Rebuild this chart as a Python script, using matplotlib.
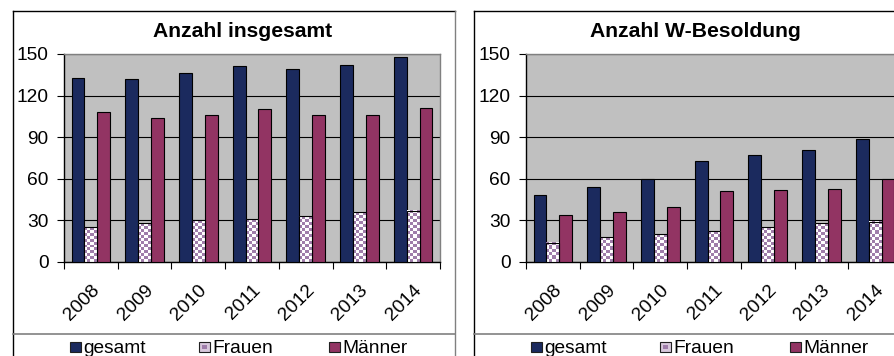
import matplotlib
matplotlib.use("Agg")
import matplotlib.pyplot as plt
import numpy as np
from matplotlib.patches import Rectangle
from matplotlib.lines import Line2D
from matplotlib.colors import ListedColormap

plt.rcParams['font.family'] = ['Liberation Sans', 'DejaVu Sans']

# Daten
jahre = ['2008', '2009', '2010', '2011', '2012', '2013', '2014']
serien = ['gesamt', 'Frauen', 'Männer']

ins_gesamt = [133, 132, 136, 141, 139, 142, 148]
ins_frauen = [25, 28, 30, 31, 33, 36, 37]
ins_maenner = [108, 104, 106, 110, 106, 106, 111]

w_gesamt = [48, 54, 60, 73, 77, 81, 89]
w_frauen = [14, 18, 20, 22, 25, 28, 29]
w_maenner = [34, 36, 40, 51, 52, 53, 60]

titel = ['Anzahl insgesamt', 'Anzahl W-Besoldung']
yticks = [0, 30, 60, 90, 120, 150]

c_gesamt = '#1B2A5E'
c_maenner = '#923463'
c_karo = '#9F7DAA'
c_grau = '#C0C0C0'

W, H = 895, 356
fig = plt.figure(figsize=(W / 100, H / 100), dpi=100)


def fx(px):
    return px / W


def fy(py):
    return 1 - py / H


karo_cmap = ListedColormap(['white', c_karo])
bw = 0.24


def diagramm(left_px, daten, title, title_x, box_x0, box_x1):
    ax = fig.add_axes([fx(left_px), fy(262), fx(376), 208 / H])
    ax.set_facecolor(c_grau)
    x = np.arange(len(jahre))
    g, f, m = daten
    ax.bar(x - bw, g, bw, color=c_gesamt, edgecolor='black', linewidth=0.8, zorder=3)
    ax.bar(x + bw, m, bw, color=c_maenner, edgecolor='black', linewidth=0.8, zorder=3)
    ax.set_xlim(-0.5, len(jahre) - 0.5)
    ax.set_ylim(0, 150)

    # Frauen: Karomuster
    fb = ax.bar(x, f, bw, color='none', edgecolor='black', linewidth=0.8, zorder=4)
    for rect in fb:
        x0, y0 = rect.get_x(), rect.get_y()
        x1, y1 = x0 + rect.get_width(), y0 + rect.get_height()
        p0 = ax.transData.transform((x0, y0))
        p1 = ax.transData.transform((x1, y1))
        nx = max(1, int(round((p1[0] - p0[0]) / 3.0)))
        ny = max(1, int(round((p1[1] - p0[1]) / 3.0)))
        feld = (np.add.outer(np.arange(ny), np.arange(nx)) % 2).astype(float)
        ax.imshow(feld, extent=[x0, x1, y0, y1], cmap=karo_cmap, vmin=0, vmax=1,
                  interpolation='nearest', aspect='auto', zorder=3.5, origin='lower')
    ax.set_xlim(-0.5, len(jahre) - 0.5)
    ax.set_ylim(0, 150)

    ax.set_yticks(yticks)
    ax.tick_params(axis='y', length=5, width=0.8, pad=6, labelsize=13.8, direction='out')
    ax.set_xticks(x)
    ax.set_xticklabels(jahre, rotation=45, ha='right', va='top', rotation_mode='anchor',
                       fontsize=13.8)
    ax.tick_params(axis='x', length=0, pad=14)
    ax.set_xticks(np.arange(len(jahre) + 1) - 0.5, minor=True)
    ax.tick_params(axis='x', which='minor', length=5, width=0.8, direction='out')
    ax.grid(axis='y', color='black', linewidth=0.8, zorder=1)
    ax.set_axisbelow(True)
    ax.spines['left'].set_color('black')
    ax.spines['bottom'].set_color('black')
    ax.spines['top'].set_color('#808080')
    ax.spines['right'].set_color('#808080')
    for s in ax.spines.values():
        s.set_linewidth(1.0)

    fig.text(fx(title_x), fy(37), title, ha='center', va='baseline',
             fontsize=15.2, fontweight='bold')

    # Rahmen und Trennlinie der Legende
    fig.add_artist(Line2D([fx(box_x0), fx(box_x0)], [fy(11), 0], color='black', lw=1))
    fig.add_artist(Line2D([fx(box_x0), fx(box_x1)], [fy(11), fy(11)], color='black', lw=1))
    fig.add_artist(Line2D([fx(box_x1), fx(box_x1)], [fy(11), 0], color='#808080', lw=1))
    fig.add_artist(Line2D([fx(box_x0), fx(box_x1)], [fy(334), fy(334)], color='#808080', lw=1.2))

    # Legende
    leg_x = box_x0 + 57
    farben = [c_gesamt, '#D8C8DC', c_maenner]
    for i, name in enumerate(serien):
        sx = leg_x + i * 129.5
        fig.add_artist(Rectangle((fx(sx), fy(352)), fx(11), 10 / H, facecolor=farben[i],
                                 edgecolor='#202020', lw=0.8))
        if name == 'Frauen':
            fig.add_artist(Rectangle((fx(sx + 3), fy(349)), fx(5), 4 / H, facecolor=c_karo,
                                     edgecolor='none'))
        fig.text(fx(sx + 13), fy(353), name, ha='left', va='baseline', fontsize=13.8)
    return ax


diagramm(64, (ins_gesamt, ins_frauen, ins_maenner), titel[0], 243, 13, 455)
diagramm(526, (w_gesamt, w_frauen, w_maenner), titel[1], 695, 474, 916)

fig.savefig('out.png', dpi=100)
